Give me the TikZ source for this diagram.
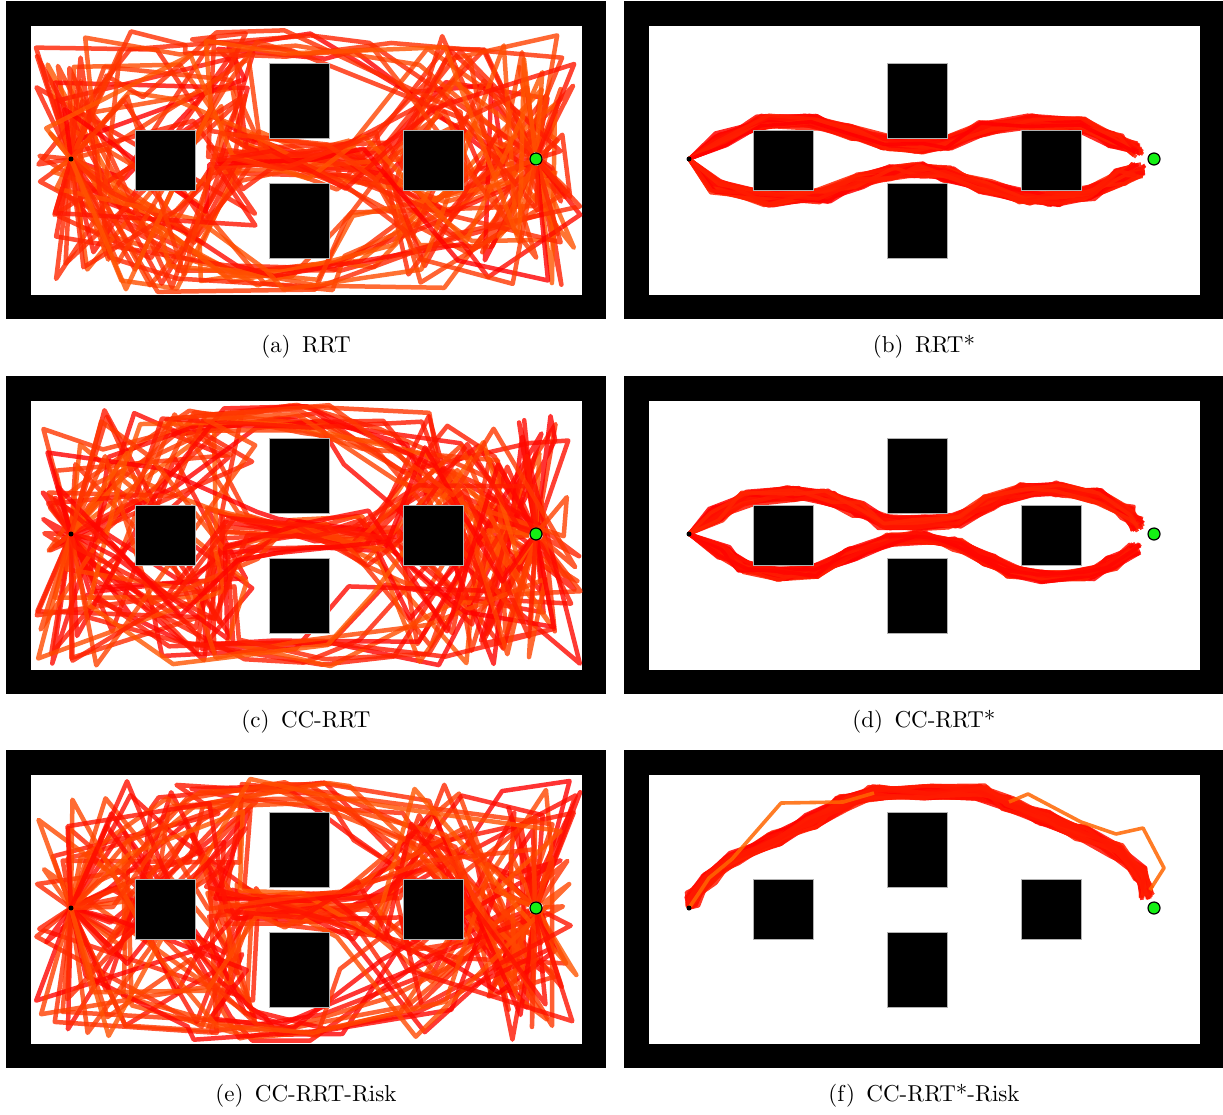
\documentclass[tikz,border=0pt]{standalone}
\usepackage{tikz}
\usetikzlibrary{positioning}

\definecolor{pathorange}{RGB}{255,102,0}
\definecolor{pathred}{RGB}{255,0,0}
\definecolor{goalgreen}{RGB}{20,240,20}
\font\capfont=cmr10 at 23pt

% sampling boxes for the tree paths: x-low/x-width/y-low/y-height
\def\routetop{30/100/30/260, 60/190/30/95, 150/110/28/32, 265/65/28/30, 330/130/28/92, 460/115/30/260, 470/105/30/260}
\def\routebot{30/100/30/260, 60/190/194/95, 150/110/259/32, 265/65/261/30, 330/130/199/92, 460/115/30/260, 470/105/30/260}
\def\routemidA{30/100/30/260, 140/110/30/90, 200/58/130/60, 265/60/142/36, 330/65/130/60, 400/70/30/90, 470/105/30/260}
\def\routemidB{30/100/30/260, 140/110/199/90, 200/58/130/60, 265/60/142/36, 330/65/130/60, 400/70/199/90, 470/105/30/260}
\def\routemidC{30/100/30/260, 140/110/30/90, 200/58/130/60, 265/60/142/36, 330/65/130/60, 400/70/199/90, 470/105/30/260}
\def\routemidD{30/100/30/260, 140/110/199/90, 200/58/130/60, 265/60/142/36, 330/65/130/60, 400/70/30/90, 470/105/30/260}

% arena walls, start and goal of one panel
\newcommand{\arena}{%
  \fill[wall] (0,0) rectangle (600,318);
  \fill[floor] (25,25) rectangle (576,294);
  \coordinate (start) at (65,158);
  \coordinate (goal) at (530,158);
  \node[goalzone] (goalzone) at (goal) {};
}
% obstacles, start and goal, drawn over the paths
\newcommand{\blocks}{%
  \draw[block] (129,129) rectangle (189,189);
  \draw[block] (263,62) rectangle (323,137);
  \draw[block] (263,182) rectangle (323,257);
  \draw[block] (397,129) rectangle (457,189);
  \node[startdot] (startdot) at (start) {};
  \node[goaldot] (goaldot) at (goal) {};
}
% #1 seed, #2 number of paths
\newcommand{\rrttree}[2]{%
  \pgfmathsetseed{#1}
  \foreach \k in {1,...,#2}{
    \pgfmathtruncatemacro\route{random(1,8)}
    \ifcase\route\or\let\curroute\routetop\or\let\curroute\routetop
      \or\let\curroute\routebot\or\let\curroute\routebot
      \or\let\curroute\routemidA\or\let\curroute\routemidB
      \or\let\curroute\routemidC\or\let\curroute\routemidD\fi
    \pgfmathtruncatemacro\mix{random(15,100)}
    \draw[rrtpath, draw=pathred!\mix!pathorange] (start)
      \foreach \xa/\xw/\ya/\yh in \curroute {-- ({\xa+rnd*\xw},{\ya+rnd*\yh})} -- (goalzone);
  }
}
% #1 seed, #2 number of paths, #3 noise, #4 waypoints
\newcommand{\starband}[4]{%
  \pgfmathsetseed{#1}
  \foreach \k in {1,...,#2}{
    \pgfmathtruncatemacro\mix{random(0,35)}
    \draw[starpath, draw=pathorange!\mix!pathred] (start)
      \foreach \px/\py in {#4} {-- ({\px+#3*rand},{\py+#3*rand})};
  }
}

\begin{document}
\begin{tikzpicture}[x=1pt, y=-1pt,
    wall/.style={fill=black},
    floor/.style={fill=white},
    block/.style={fill=black, draw=gray!60, line width=0.8pt},
    rrtpath/.style={line width=4.5pt, draw opacity=0.8, line join=round},
    starpath/.style={line width=3.6pt, draw opacity=0.85, line join=round},
    startdot/.style={circle, fill=black, minimum size=5pt, inner sep=0pt},
    goalzone/.style={circle, minimum size=14pt, inner sep=0pt},
    goaldot/.style={circle, draw=black, line width=1.2pt, fill=goalgreen, minimum size=12pt, inner sep=0pt},
    caption/.style={font=\capfont}
]
\useasboundingbox (0,0) rectangle (1223,1114);

% (a) RRT
\begin{scope}[shift={(6,1)}]
  \arena
  \rrttree{11}{55}
  \blocks
\end{scope}
\node[caption] (capa) at (306,347) {(a)\enspace RRT};

% (b) RRT*
\begin{scope}[shift={(624,1)}]
  \arena
  \starband{21}{40}{7}{96/139, 138/121, 188/121, 227/131, 261/142, 296/145, 323/142, 361/127, 407/121, 457/124, 492/139, 513/149}
  \starband{22}{40}{7}{92/186, 146/198, 200/195, 234/180, 265/172, 296/169, 323/173, 361/186, 400/196, 431/198, 465/192, 496/176, 515/169}
  \blocks
\end{scope}
\node[caption] (capb) at (924,347) {(b)\enspace RRT*};

% (c) CC-RRT
\begin{scope}[shift={(6,376)}]
  \arena
  \rrttree{31}{55}
  \blocks
\end{scope}
\node[caption] (capc) at (306,722) {(c)\enspace CC-RRT};

% (d) CC-RRT*
\begin{scope}[shift={(624,376)}]
  \arena
  \starband{41}{40}{7}{92/138, 123/122, 169/118, 204/121, 234/133, 261/146, 296/147, 331/145, 365/126, 400/114, 438/113, 473/120, 504/136, 513/149}
  \starband{42}{40}{6}{100/176, 119/191, 158/198, 188/196, 227/178, 265/164, 296/161, 334/168, 365/184, 388/195, 419/201, 465/198, 488/187, 511/173}
  \blocks
\end{scope}
\node[caption] (capd) at (924,722) {(d)\enspace CC-RRT*};

% (e) CC-RRT-Risk
\begin{scope}[shift={(6,750)}]
  \arena
  \rrttree{51}{55}
  \blocks
\end{scope}
\node[caption] (cape) at (306,1096) {(e)\enspace CC-RRT-Risk};

% (f) CC-RRT*-Risk
\begin{scope}[shift={(624,750)}]
  \arena
  \starband{61}{45}{7}{69/149, 85/128, 108/109, 150/89, 188/71, 219/53, 250/43, 304/42, 358/42, 385/53, 419/68, 458/83, 492/100, 515/124, 523/143}
  \draw[starpath, draw=pathorange] (start) -- (85,128) -- (108,109) -- (157,53) -- (219,52) -- (250,43);
  \draw[starpath, draw=pathorange] (385,52) -- (404,44) -- (457,72) -- (492,84) -- (519,78) -- (540,118) -- (526,140);
  \blocks
\end{scope}
\node[caption] (capf) at (924,1096) {(f)\enspace CC-RRT*-Risk};

\end{tikzpicture}
\end{document}
